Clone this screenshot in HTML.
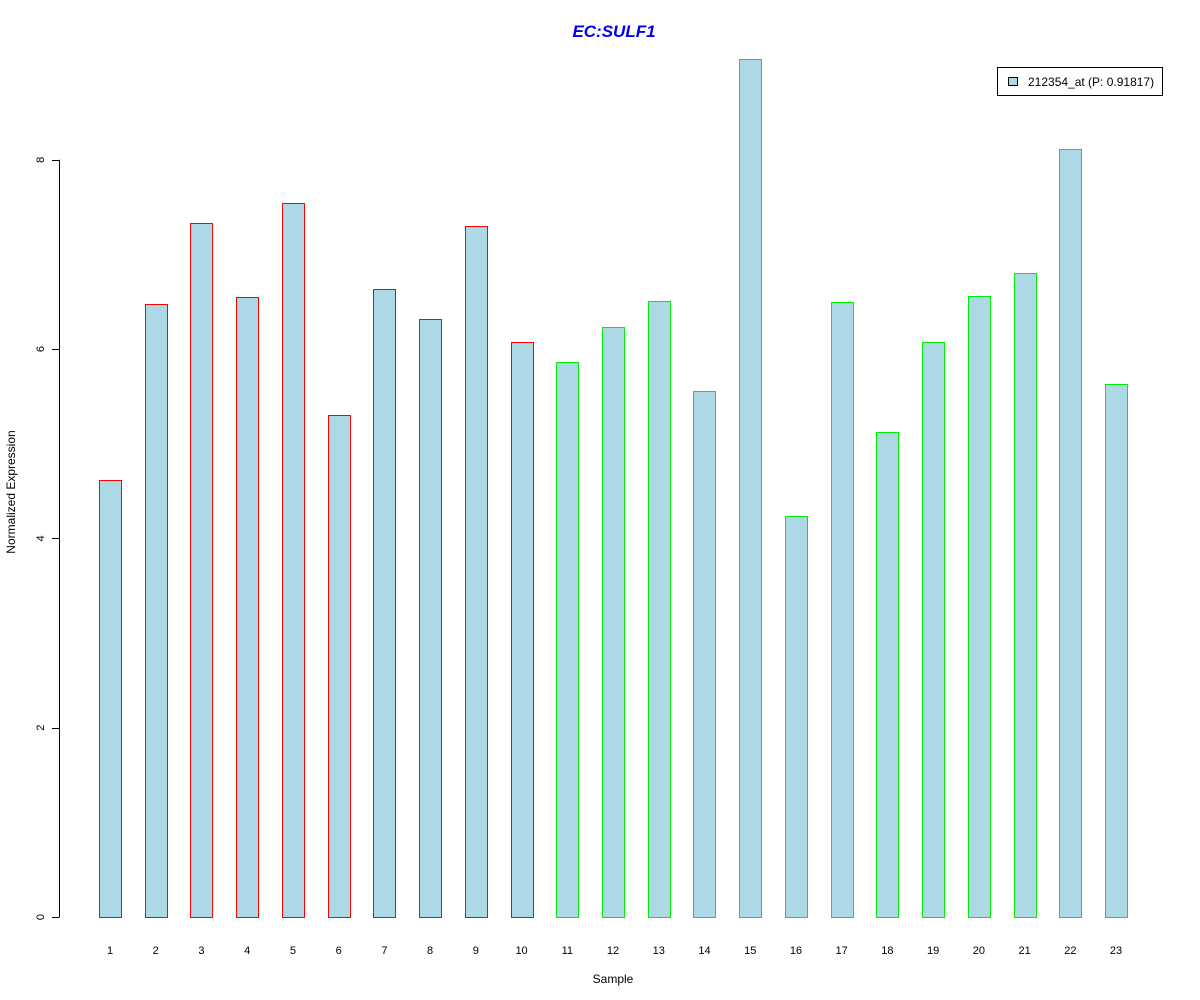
<!DOCTYPE html>
<html><head><meta charset="utf-8"><style>
body{margin:0;background:#fff;}
svg{display:block;font-family:"Liberation Sans",Arial,sans-serif;}
</style></head><body>
<svg id="chart" width="1200" height="1000" xmlns="http://www.w3.org/2000/svg">
<rect width="1200" height="1000" fill="#fff"/>
<text x="614" y="37" text-anchor="middle" font-size="17" font-weight="bold" font-style="italic" fill="#0000ee">EC:SULF1</text>
<text x="613" y="983" text-anchor="middle" font-size="12">Sample</text>
<text transform="translate(15,492) rotate(-90)" text-anchor="middle" font-size="12">Normalized Expression</text>
<g id="yaxis"></g>
<g id="bars"></g>
<g id="xlabels"></g>
<g>
<rect x="997.5" y="67.5" width="165" height="28" fill="#fff" stroke="#000"/>
<rect x="1008.5" y="77.5" width="9" height="8" fill="#add8e6" stroke="#000"/>
<text x="1028" y="86" font-size="12">212354_at (P: 0.91817)</text>
</g>
</svg>
<script>
const categories=["1","2","3","4","5","6","7","8","9","10","11","12","13","14","15","16","17","18","19","20","21","22","23"];
const values=[4.62,6.48,7.33,6.55,7.54,5.30,6.63,6.32,7.30,6.08,5.86,6.23,6.51,5.56,9.07,4.24,6.50,5.12,6.08,6.56,6.80,8.11,5.63];
const groups=["a","a","a","a","a","a","a","a","a","a","b","b","b","b","b","b","b","b","b","b","b","b","b"];
const yTicks=[0,2,4,6,8];
const NS="http://www.w3.org/2000/svg";
const y=v=>917-v*94.65;
const x=i=>110+i*45.73;
function mk(tag,attrs,parent){const e=document.createElementNS(NS,tag);for(const k in attrs)e.setAttribute(k,attrs[k]);parent.appendChild(e);return e;}
const ya=document.getElementById('yaxis');
mk('line',{x1:59.5,x2:59.5,y1:y(yTicks[0]),y2:y(yTicks[yTicks.length-1]),stroke:'#000'},ya);
yTicks.forEach(t=>{
  const l=mk('line',{x1:52,x2:59.5,y1:Math.round(y(t))+0.5,y2:Math.round(y(t))+0.5,stroke:'#000'},ya);
  
  
  const tx=mk('text',{transform:`translate(44,${y(t)}) rotate(-90)`,'text-anchor':'middle','font-size':11},ya);
  
  
  tx.textContent=t;
});
const bg=document.getElementById('bars'),xl=document.getElementById('xlabels');
values.forEach((v,i)=>{
  const r=mk('rect',{x:Math.round(x(i)-11)+0.5,y:Math.round(y(v))+0.5,width:22,height:Math.round(y(0))-Math.round(y(v)),fill:'#add8e6',stroke:groups[i]==='a'?'#ff0000':'#00ee00'},bg);
  
  
  const t=mk('text',{x:x(i),y:954,'text-anchor':'middle','font-size':11},xl);
  
  
  t.textContent=categories[i];
});
</script>
</body></html>
